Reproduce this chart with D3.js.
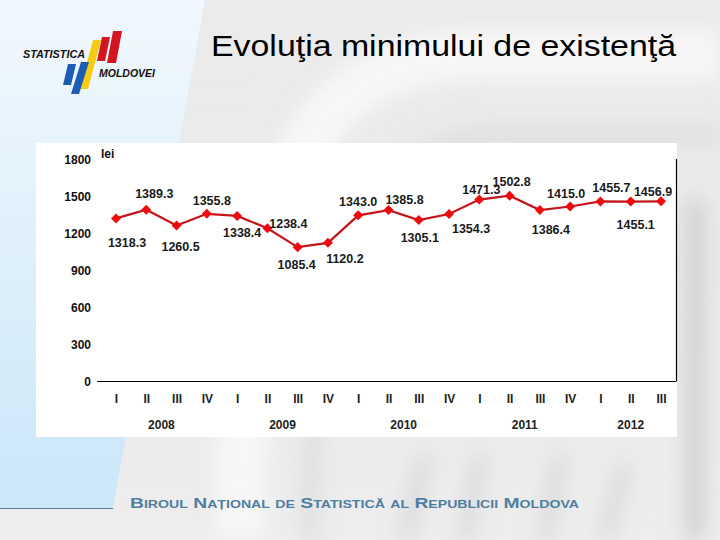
<!DOCTYPE html>
<html>
<head>
<meta charset="utf-8">
<script src="https://cdn.jsdelivr.net/npm/d3@7/dist/d3.min.js"></script>
<style>
  html, body { margin: 0; padding: 0; background: #ececec; }
  svg { display: block; }
  text { font-family: "Liberation Sans", Arial, sans-serif; }
</style>
</head>
<body>
<svg id="chart" width="720" height="540"></svg>
<script>
// ---------- data ----------
const quarters = ["I","II","III","IV","I","II","III","IV","I","II","III","IV","I","II","III","IV","I","II","III"];
const years = ["2008","2008","2008","2008","2009","2009","2009","2009","2010","2010","2010","2010","2011","2011","2011","2011","2012","2012","2012"];
const values = [1318.3, 1389.3, 1260.5, 1355.8, 1338.4, 1238.4, 1085.4, 1120.2, 1343.0, 1385.8, 1305.1, 1354.3, 1471.3, 1502.8, 1386.4, 1415.0, 1455.7, 1455.1, 1456.9];
const yTicks = [0, 300, 600, 900, 1200, 1500, 1800];
const titleText = "Evoluţia minimului de existenţă";
const unitText = "lei";
const footerText = "Biroul Național de Statistică al Republicii Moldova";

// label placement offsets (layout only)
const labelOffsets = [
  [11, 24], [8, -16], [4, 21], [5, -13], [5, 17], [21, -5], [-1, 17], [17, 16],
  [0, -14], [16, -10], [1, 18], [22, 15], [2, -10], [2, -14], [11, 20], [-4, -13],
  [11, -14], [5, 23], [-8, -10]
];

const svg = d3.select("#chart");
const defs = svg.append("defs");

// ---------- background ----------
const bg = defs.append("linearGradient").attr("id","bg").attr("x1",0).attr("y1",0).attr("x2",0).attr("y2",1);
bg.append("stop").attr("offset","0%").attr("stop-color","#ebebeb");
bg.append("stop").attr("offset","50%").attr("stop-color","#eaeaea");
bg.append("stop").attr("offset","100%").attr("stop-color","#ededed");
svg.append("rect").attr("width",720).attr("height",540).attr("fill","url(#bg)");

const blur = defs.append("filter").attr("id","blur").attr("x","-20%").attr("y","-20%").attr("width","140%").attr("height","140%");
blur.append("feGaussianBlur").attr("stdDeviation",10);
const ghost = svg.append("g").attr("filter","url(#blur)").attr("fill","none");
ghost.append("path").attr("d","M240,540 C240,200 300,60 470,55 L720,55").attr("stroke","#f7f7f7").attr("stroke-width",50);
ghost.append("path").attr("d","M310,540 C310,260 360,140 500,135 L720,135").attr("stroke","#dcdcdc").attr("stroke-width",14);
ghost.append("path").attr("d","M695,200 L695,540").attr("stroke","#cfcfcf").attr("stroke-width",18);
ghost.append("path").attr("d","M425,455 L405,540 M480,455 L465,540 M560,455 L545,540 M625,465 L605,540").attr("stroke","#d6d6d6").attr("stroke-width",12);

// blue panel
const bp = defs.append("linearGradient").attr("id","bp").attr("x1",0).attr("y1",0).attr("x2",0).attr("y2",1);
bp.append("stop").attr("offset","0%").attr("stop-color","#f1f8fd");
bp.append("stop").attr("offset","100%").attr("stop-color","#cbe7f8");
svg.append("polygon").attr("points","0,0 205,0 113,508 0,508").attr("fill","url(#bp)");
svg.append("line").attr("x1",0).attr("x2",113).attr("y1",508.5).attr("y2",508.5).attr("stroke","#5d7d95").attr("stroke-width",1.2);

// ---------- chart box ----------
svg.append("rect").attr("x",36).attr("y",143).attr("width",641).attr("height",294).attr("fill","#ffffff");

const plotRight = 676.5, plotTop = 159, plotBottom = 381;
const x = d3.scalePoint().domain(d3.range(values.length)).range([116, 661]);
const y = d3.scaleLinear().domain([0, 1800]).range([plotBottom, plotTop]);

// frame: bottom axis and right border
svg.append("line").attr("x1",97).attr("x2",plotRight).attr("y1",plotBottom+0.5).attr("y2",plotBottom+0.5).attr("stroke","#000").attr("stroke-width",1.2);
svg.append("line").attr("x1",plotRight).attr("x2",plotRight).attr("y1",plotTop).attr("y2",plotBottom).attr("stroke","#000").attr("stroke-width",1.2);

// y axis labels
const yAxis = d3.axisLeft(y).tickValues(yTicks).tickSize(0).tickPadding(0).tickFormat(d3.format("d"));
const ya = svg.append("g").attr("transform","translate(91,0)").call(yAxis);
ya.select(".domain").remove();
ya.selectAll("text").attr("font-family","Liberation Sans, Arial, sans-serif").attr("font-size",12).attr("font-weight","bold").attr("fill","#111").attr("dy","0.35em");

svg.append("text").attr("x",101).attr("y",158).text(unitText)
  .attr("font-size",12).attr("font-weight","bold").attr("fill","#111");

// x axis: quarters
const xAxis = d3.axisBottom(x).tickSize(0).tickPadding(0).tickFormat(i => quarters[i]);
const xa = svg.append("g").attr("transform","translate(0,394)").call(xAxis);
xa.select(".domain").remove();
xa.selectAll("text").attr("font-family","Liberation Sans, Arial, sans-serif").attr("font-size",12).attr("font-weight","bold").attr("fill","#222").attr("dy","0.71em");

// years
const yearGroups = d3.groups(d3.range(values.length), i => years[i]);
svg.append("g").selectAll("text").data(yearGroups).join("text")
  .attr("x", d => (x(d[1][0]) + x(d[1][d[1].length-1]))/2)
  .attr("y", 429)
  .attr("text-anchor","middle")
  .attr("font-size",12).attr("font-weight","bold").attr("fill","#222")
  .text(d => d[0]);

// line
const line = d3.line().x((d,i) => x(i)).y(d => y(d));
svg.append("path").datum(values).attr("d", line)
  .attr("fill","none").attr("stroke","#c3161c").attr("stroke-width",2.2);

// markers
const diamond = d3.symbol().type(d3.symbolDiamond2).size(64);
svg.append("g").selectAll("path").data(values).join("path")
  .attr("transform",(d,i) => `translate(${x(i)},${y(d)})`)
  .attr("d", diamond)
  .attr("fill","#ee0a0f");

// value labels
svg.append("g").selectAll("text").data(values).join("text")
  .attr("x",(d,i) => x(i) + labelOffsets[i][0])
  .attr("y",(d,i) => y(d) + labelOffsets[i][1])
  .attr("text-anchor","middle")
  .attr("dy","0.35em")
  .attr("font-size",12.5).attr("font-weight","bold").attr("fill","#1a1a1a")
  .text(d => d.toFixed(1));

// ---------- title ----------
svg.append("text").attr("x",211).attr("y",56).text(titleText)
  .attr("font-size",29).attr("fill","#000")
  .attr("textLength",465).attr("lengthAdjust","spacingAndGlyphs");

// ---------- logo ----------
const logo = svg.append("g");
function stripe(x0, y0, x1, y1, w, color) {
  logo.append("polygon")
    .attr("points", `${x0},${y0} ${x0+w},${y0} ${x1+w},${y1} ${x1},${y1}`)
    .attr("fill", color);
}
stripe(102, 37, 97, 61, 8, "#d3151f");
stripe(113, 31, 107, 63, 9, "#d3151f");
stripe(93, 40, 80, 89, 8, "#f6cc12");
stripe(68, 64, 63, 85, 8, "#1c5cb3");
stripe(81, 62, 71, 94, 8, "#1c5cb3");
logo.append("text").attr("x",23).attr("y",58).text("STATISTICA")
  .attr("font-size",11).attr("font-weight","bold").attr("font-style","italic").attr("fill","#111")
  .attr("textLength",62).attr("lengthAdjust","spacingAndGlyphs");
logo.append("text").attr("x",99).attr("y",77).text("MOLDOVEI")
  .attr("font-size",11).attr("font-weight","bold").attr("font-style","italic").attr("fill","#111")
  .attr("textLength",56).attr("lengthAdjust","spacingAndGlyphs");

// ---------- footer ----------
svg.append("text").attr("x",130).attr("y",508).text(footerText)
  .attr("font-size",15).attr("font-weight","bold").attr("fill","#4f7fa0")
  .style("font-variant","small-caps")
  .attr("textLength",449).attr("lengthAdjust","spacingAndGlyphs");
</script>
</body>
</html>
